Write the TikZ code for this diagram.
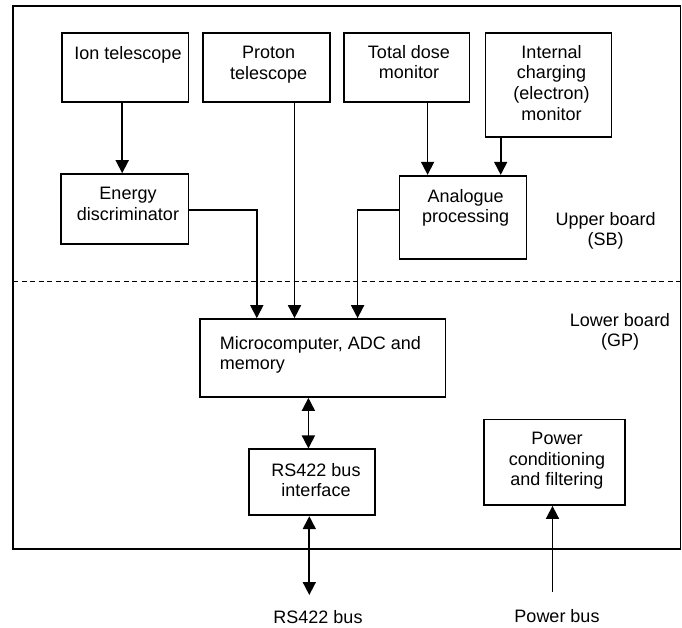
\documentclass[tikz,border=0pt]{standalone}
\usepackage{fontspec}
\setmainfont{Liberation Sans}
\usetikzlibrary{arrows.meta}
\begin{document}
\begin{tikzpicture}[x=1pt,y=-1pt,
  box/.style={draw, line width=1.7pt, inner sep=0pt, rectangle},
  txt/.style={font=\fontsize{18}{20.7}\selectfont, inner sep=0pt, align=center, anchor=north},
  conn/.style={line width=1.7pt},
  tip/.tip={Triangle[width=13pt,length=13pt]},
  arr/.style={conn, -tip},
  darr/.style={conn, tip-tip},
  boardline/.style={line width=1.2pt, dash pattern=on 5pt off 3.5pt}]
\useasboundingbox (0,0) rectangle (682,628);
% outer frame and board divider
\draw[line width=1.7pt] (13,6) rectangle (680.5,549);
\draw[boardline] (13,281.7) -- (680.5,281.7);
% boxes
\node[box, minimum width=126.2pt, minimum height=69pt] (ion) at (125.3,67.8) {};
\node[box, minimum width=127pt, minimum height=69pt] (proton) at (266.5,67.8) {};
\node[box, minimum width=125.7pt, minimum height=69pt] (dose) at (406.5,67.8) {};
\node[box, minimum width=126.1pt, minimum height=103.4pt] (internal) at (548.5,85) {};
\node[box, minimum width=127.4pt, minimum height=70.3pt] (energy) at (124.7,209.2) {};
\node[box, minimum width=127.1pt, minimum height=83.6pt] (analogue) at (462.9,217.5) {};
\node[box, minimum width=245.4pt, minimum height=78pt] (micro) at (322.7,358) {};
\node[box, minimum width=126.2pt, minimum height=66pt] (rsif) at (311.9,482.3) {};
\node[box, minimum width=141pt, minimum height=85.7pt] (power) at (554.5,462.2) {};
% texts
\node[txt] (iont) at (128,46) {Ion telescope};
\node[txt] (protont) at (268.6,46) {Proton\\telescope};
\node[txt] (doset) at (409,45) {Total dose\\monitor};
\node[txt] (internalt) at (551.5,45) {Internal\\charging\\(electron)\\monitor};
\node[txt] (energyt) at (128,187) {Energy\\discriminator};
\node[txt] (analoguet) at (465.6,189) {Analogue\\processing};
\node[txt] (upper) at (605.6,212) {Upper board\\(SB)};
\node[txt, align=left, anchor=north west] (microt) at (219.7,336) {Microcomputer, ADC and\\memory};
\node[txt] (lower) at (620,313) {Lower board\\(GP)};
\node[txt] (rsift) at (316,463) {RS422 bus\\interface};
\node[txt] (powert) at (557,432) {Power\\conditioning\\and filtering};
\node[txt] (rsbus) at (318,610) {RS422 bus};
\node[txt] (pwrbus) at (557,609) {Power bus};
% connector guides
\coordinate (cA) at (122.2,0);
\coordinate (cB) at (256.8,0);
\coordinate (cC) at (294.5,0);
\coordinate (cD) at (357.6,0);
\coordinate (cE) at (0,210);
\coordinate (cF) at (427.6,0);
\coordinate (cG) at (500.7,0);
\coordinate (cH) at (308.4,0);
\coordinate (cI) at (309.3,0);
\coordinate (cJ) at (552.5,0);
\coordinate (rsend) at (309.3,595);
\coordinate (pwrend) at (552.5,592);
% connectors
\draw[arr] (ion.south -| cA) -- (energy.north -| cA);
\draw[arr] (energy.east |- cE) -| (micro.north -| cB);
\draw[arr] (proton.south -| cC) -- (micro.north -| cC);
\draw[arr] (analogue.west |- cE) -| (micro.north -| cD);
\draw[arr] (dose.south -| cF) -- (analogue.north -| cF);
\draw[arr] (internal.south -| cG) -- (analogue.north -| cG);
\draw[darr] (micro.south -| cH) -- (rsif.north -| cH);
\draw[darr] (rsif.south -| cI) -- (rsend);
\draw[arr] (pwrend) -- (power.south -| cJ);
\end{tikzpicture}
\end{document}
